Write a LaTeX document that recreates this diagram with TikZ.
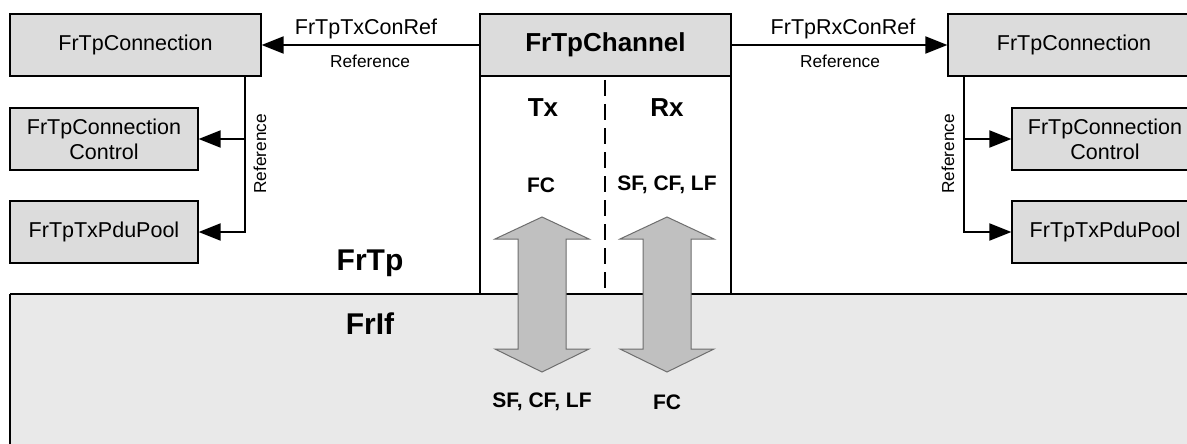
\documentclass[tikz,border=0pt]{standalone}
\usepackage{fontspec}
\setmainfont{Liberation Sans}
\usetikzlibrary{arrows.meta}
\definecolor{boxgray}{HTML}{DCDCDC}
\definecolor{ifgray}{HTML}{E9E9E9}
\definecolor{arrgray}{HTML}{C0C0C0}
\definecolor{arredge}{HTML}{6E6E6E}
\tikzset{
  box/.style={draw=black, line width=1.3pt, fill=boxgray, rectangle, inner sep=0pt,
    minimum height=62pt, align=center, font=\fontsize{21.5}{25}\selectfont},
  refline/.style={draw=black, line width=2.2pt, -{Triangle[length=22pt,width=17pt]}},
  plainline/.style={draw=black, line width=2.2pt},
  bigtxt/.style={font=\bfseries\fontsize{30}{34}\selectfont, inner sep=0pt},
  midtxt/.style={font=\bfseries\fontsize{26}{30}\selectfont, inner sep=0pt},
  smalltxt/.style={font=\bfseries\fontsize{21}{24}\selectfont, inner sep=0pt},
  lbl/.style={font=\fontsize{21.5}{25}\selectfont, inner sep=0pt},
  reflbl/.style={font=\fontsize{17.3}{20}\selectfont, inner sep=0pt},
  dblarrow/.style={fill=arrgray, draw=arredge, line width=1pt, line join=miter},
}
\begin{document}
\begin{tikzpicture}[x=1pt,y=-1pt]
\useasboundingbox (0,0) rectangle (1187,444);
\clip (0,0) rectangle (1187,444);
\fill[white] (0,0) rectangle (1187,444);

% FrIf region
\fill[ifgray] (10,294) rectangle (1210,460);
\draw[line width=1.3pt] (10,294) -- (10,460);
\draw[line width=2.2pt] (10,294) -- (1210,294);

% FrTpChannel
\draw[line width=1.3pt] (480,76) -- (480,294);
\draw[line width=1.3pt] (731,76) -- (731,294);
\node[box, minimum width=251pt, font=\bfseries\fontsize{26}{30}\selectfont] (chanhead) at (605.5,45) {FrTpChannel};
\draw[line width=2pt, dash pattern=on 16pt off 8pt] (605,80) -- (605,288);
\node[midtxt] (tx) at (543,108) {Tx};
\node[midtxt] (rx) at (667,108) {Rx};
\node[smalltxt] (fcup) at (541,185) {FC};
\node[smalltxt] (sfup) at (667,185) {SF, CF, LF};

% double arrows
\foreach \c/\nm in {542/aleft, 667/aright}{
  \draw[dblarrow] (\c,217) -- (\c+47,239) -- (\c+24,239) -- (\c+24,349) -- (\c+47,349)
     -- (\c,372) -- (\c-47,349) -- (\c-24,349) -- (\c-24,239) -- (\c-47,239) -- cycle;
}
\node[smalltxt] (sfdown) at (542,402) {SF, CF, LF};
\node[smalltxt] (fcdown) at (667,402) {FC};

% layer labels
\node[bigtxt] (frtp) at (370,263) {FrTp};
\node[bigtxt] (frif) at (370,324) {FrIf};

% Left side
\node[box, minimum width=251pt] (lconn) at (135.5,45) {FrTpConnection};
\node[box, minimum width=188pt] (lctrl) at (104,139) {FrTpConnection\\Control};
\node[box, minimum width=188pt] (lpool) at (104,232) {FrTpTxPduPool};
\draw[refline] (chanhead.west) -- (lconn.east);
\node[lbl] (ltxref) at (366,29) {FrTpTxConRef};
\node[reflbl] (lref1) at (370,61) {Reference};
\coordinate (lv) at (245,0);
\draw[refline] (lconn.south -| lv) |- (lpool.east);
\draw[refline] (lv |- lctrl.east) -- (lctrl.east);
\node[reflbl, rotate=90] (lref2) at (260,154) {Reference};

% Right side
\node[box, minimum width=252pt] (rconn) at (1074,45) {FrTpConnection};
\node[box, minimum width=186pt] (rctrl) at (1105,139) {FrTpConnection\\Control};
\node[box, minimum width=186pt] (rpool) at (1105,232) {FrTpTxPduPool};
\draw[refline] (chanhead.east) -- (rconn.west);
\node[lbl] (rrxref) at (843,29) {FrTpRxConRef};
\node[reflbl] (rref1) at (840,61) {Reference};
\coordinate (rv) at (964,0);
\draw[refline] (rconn.south -| rv) |- (rpool.west);
\draw[refline] (rv |- rctrl.west) -- (rctrl.west);
\node[reflbl, rotate=90] (rref2) at (948,154) {Reference};
\end{tikzpicture}
\end{document}
